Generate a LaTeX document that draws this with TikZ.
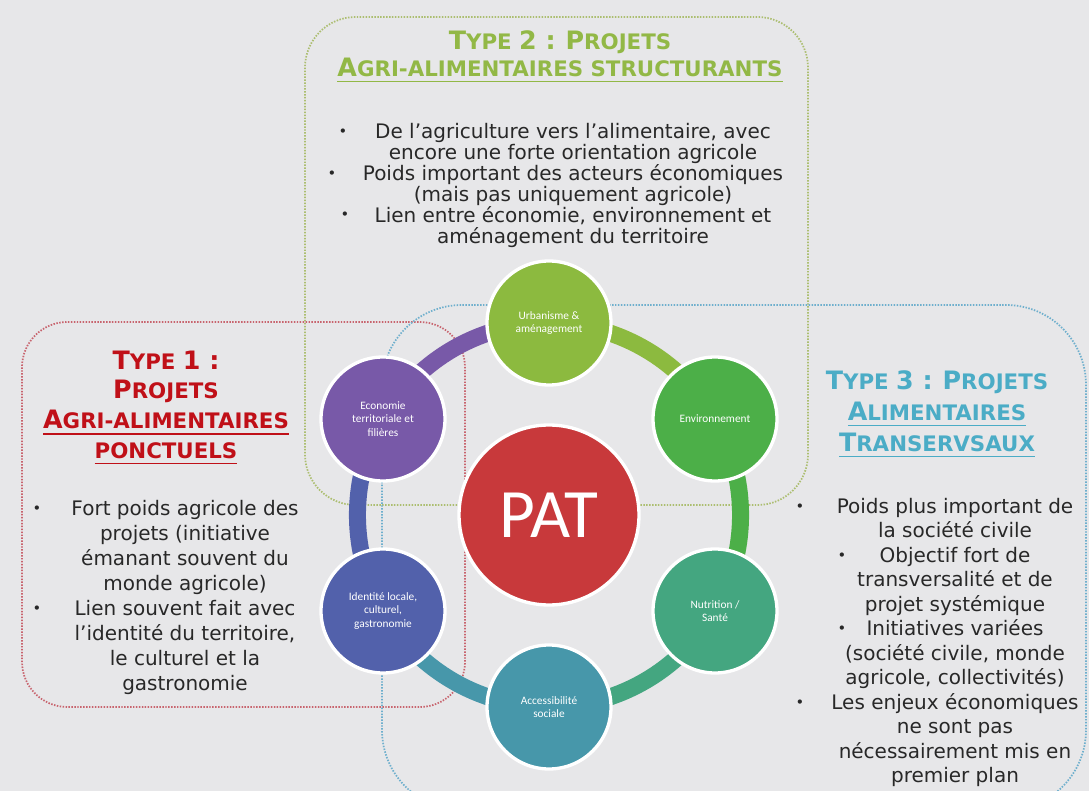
\documentclass[tikz,border=0pt]{standalone}
\usepackage{fontspec}
\setmainfont{DejaVu Sans}
\newfontfamily\carlito{Carlito}
\usetikzlibrary{positioning}

\definecolor{fond}{RGB}{231,231,233}
\definecolor{txtgray}{RGB}{40,40,40}
\definecolor{tgreen}{RGB}{146,184,70}
\definecolor{tred}{RGB}{192,16,24}
\definecolor{tblue}{RGB}{75,172,198}
\definecolor{lgreen}{RGB}{172,190,112}
\definecolor{lred}{RGB}{200,100,110}
\definecolor{lblue}{RGB}{110,175,205}
\definecolor{curba}{RGB}{140,186,63}
\definecolor{cenv}{RGB}{76,175,72}
\definecolor{cnutr}{RGB}{68,166,128}
\definecolor{cacces}{RGB}{71,151,170}
\definecolor{cident}{RGB}{82,97,171}
\definecolor{cecon}{RGB}{120,89,168}
\definecolor{cpat}{RGB}{200,57,59}

\newcommand\hcap[1]{{\fontsize{19pt}{19pt}\selectfont #1}}
\newcommand\ulin[1]{\leavevmode\setbox0\hbox{#1}\rlap{\rule[-4.5pt]{\wd0}{1.3pt}}\box0}

\pgfdeclarelayer{bg}
\pgfdeclarelayer{ring}
\pgfsetlayers{bg,ring,main}

\tikzset{
  typebox/.style={rounded corners=#1, line width=1.3pt, dash pattern=on 1.1pt off 1.1pt},
  title/.style={align=center, font=\bfseries\fontsize{16pt}{#1}\selectfont},
  body/.style={align=center, text=txtgray, font=\fontsize{15pt}{#1}\selectfont},
  puce/.style={text=txtgray, inner sep=0pt, font=\fontsize{11pt}{11pt}\selectfont},
  theme/.style={circle, draw=white, line width=2.5pt, fill=#1, minimum size=93pt, inner sep=0pt,
    text=white, align=center, font=\carlito\fontsize{8.5pt}{10pt}\selectfont},
  ringarc/.style={draw=#1, line width=12.75pt},
}

\begin{document}
\begin{tikzpicture}[x=0.75pt,y=-0.75pt]
  \useasboundingbox (0,0) rectangle (1089,791);
  \begin{pgfonlayer}{bg}
    \fill[fond] (0,0) rectangle (1089,791);
    \draw[typebox=38pt, lgreen] (305,17) rectangle (808,505);
    \draw[typebox=34pt, lred] (22,322) rectangle (465,707);
    \draw[typebox=60pt, lblue] (382,305) rectangle (1086,810);
  \end{pgfonlayer}

  % les six thematiques autour du PAT
  \node[theme=curba] (urba) at (549,323) {Urbanisme \&\\aménagement};
  \node[theme=cenv] (env) at (715,419) {Environnement};
  \node[theme=cnutr] (nutr) at (715,611) {Nutrition /\\Santé};
  \node[theme=cacces] (acces) at (549,707) {Accessibilité\\sociale};
  \node[theme=cident] (ident) at (383,611) {Identité locale,\\culturel,\\gastronomie};
  \node[theme=cecon] (econ) at (383,419) {Economie\\territoriale et\\filières};
  \node[theme=cpat, minimum size=135pt, font=\carlito\fontsize{52pt}{52pt}\selectfont] (pat) at (549,515) {PAT};

  \begin{pgfonlayer}{ring}
    \draw[ringarc=curba] (urba.center) to[bend left=30, looseness=0.91] (env.center);
    \draw[ringarc=cenv] (env.center) to[bend left=30, looseness=0.91] (nutr.center);
    \draw[ringarc=cnutr] (nutr.center) to[bend left=30, looseness=0.91] (acces.center);
    \draw[ringarc=cacces] (acces.center) to[bend left=30, looseness=0.91] (ident.center);
    \draw[ringarc=cident] (ident.center) to[bend left=30, looseness=0.91] (econ.center);
    \draw[ringarc=cecon] (econ.center) to[bend left=30, looseness=0.91] (urba.center);
  \end{pgfonlayer}

  % type 2
  \node[title=20.25pt, text=tgreen] (t2titre) at (560,56.5)
    {\hcap{T}YPE \hcap{2 :} \hcap{P}ROJETS\\\ulin{\hcap{A}GRI-ALIMENTAIRES STRUCTURANTS}};
  \node[body=15.75pt] (t2texte) at (573,185)
    {De l’agriculture vers l’alimentaire, avec\\encore une forte orientation agricole\\
     Poids important des acteurs économiques\\(mais pas uniquement agricole)\\
     Lien entre économie, environnement et\\aménagement du territoire};
  \node[puce] (t2p1) at (343,133) {•};
  \node[puce] (t2p2) at (332,175) {•};
  \node[puce] (t2p3) at (345,216) {•};

  % type 1
  \node[title=22.3pt, text=tred] (t1titre) at (166,407.5)
    {\hcap{T}YPE \hcap{1 :}\\\hcap{P}ROJETS\\\ulin{\hcap{A}GRI-ALIMENTAIRES}\\\ulin{PONCTUELS}};
  \node[body=18.75pt] (t1texte) at (185,597.5)
    {Fort poids agricole des\\projets (initiative\\émanant souvent du\\monde agricole)\\
     Lien souvent fait avec\\l’identité du territoire,\\le culturel et la\\gastronomie};
  \node[puce] (t1p1) at (37,510) {•};
  \node[puce] (t1p2) at (37,610) {•};

  % type 3
  \node[title=23.2pt, text=tblue] (t3titre) at (937,414)
    {\hcap{T}YPE \hcap{3 :} \hcap{P}ROJETS\\\ulin{\hcap{A}LIMENTAIRES}\\\ulin{\hcap{T}RANSERVSAUX}};
  \node[body=18.35pt] (t3texte) at (955,642.5)
    {Poids plus important de\\la société civile\\Objectif fort de\\transversalité et de\\
     projet systémique\\Initiatives variées\\(société civile, monde\\agricole, collectivités)\\
     Les enjeux économiques\\ne sont pas\\nécessairement mis en\\premier plan};
  \node[puce] (t3p1) at (800,508) {•};
  \node[puce] (t3p2) at (842,557) {•};
  \node[puce] (t3p3) at (842,630) {•};
  \node[puce] (t3p4) at (800,704) {•};
\end{tikzpicture}
\end{document}
